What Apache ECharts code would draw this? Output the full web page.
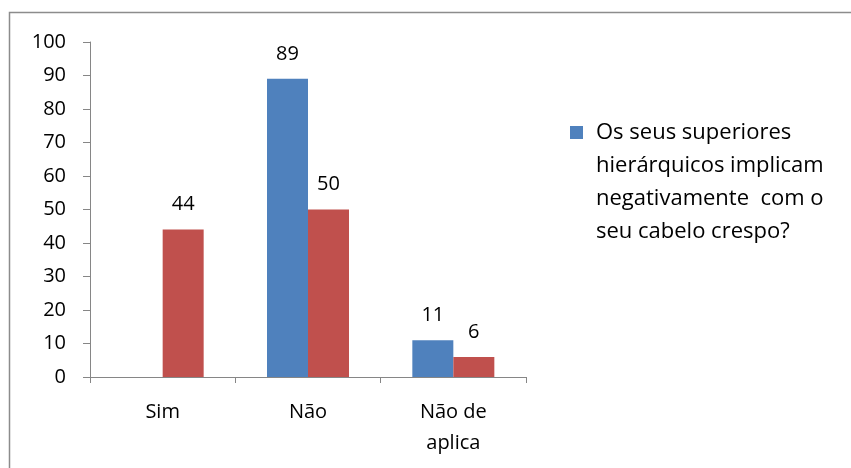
<!DOCTYPE html>
<html>
<head>
<meta charset="utf-8">
<script src="https://cdn.jsdelivr.net/npm/echarts@6/dist/echarts.min.js"></script>
<style>
  html, body { margin: 0; padding: 0; background: #fff; }
  #chart { width: 851px; height: 468px; }
</style>
</head>
<body>
<div id="chart"></div>
<script>
// data
var categories = ['Sim', 'Não', 'Não de\naplica']
var seriesName = 'Os seus superiores\nhierárquicos implicam\nnegativamente  com o\nseu cabelo crespo?'
var blueValues = [null, 89, 11]
var redValues = [44, 50, 6]
var yTicks = { min: 0, max: 100, interval: 10 }

var font = '"Open Sans", Lato, sans-serif'
var axisGray = '#868686'

// legend marker: square at the first text line, invisible dots stretch the box
var legendIcon = 'path://M0,0h0.01v0.01h-0.01z M0,10h13v13h-13z M20.99,131.99h0.01v0.01h-0.01z'

var chart = echarts.init(document.getElementById('chart'), null, { renderer: 'canvas' })

chart.setOption({
  animation: false,
  backgroundColor: '#fff',
  textStyle: { fontFamily: font },
  graphic: [
    {
      type: 'rect',
      shape: { x: 9.5, y: 12.5, width: 900, height: 500 },
      style: { fill: 'none', stroke: '#8c8c8c', lineWidth: 1.5 },
      silent: true
    }
  ],
  grid: {
    left: 90,
    top: 42,
    width: 436,
    bottom: 91
  },
  legend: {
    data: [seriesName],
    left: 565,
    top: 111,
    itemWidth: 21,
    itemHeight: 132,
    icon: legendIcon,
    textStyle: {
      fontFamily: font,
      fontSize: 22,
      color: '#000',
      lineHeight: 33
    }
  },
  xAxis: {
    type: 'category',
    data: categories,
    axisLine: { lineStyle: { color: axisGray, width: 1 } },
    axisTick: { show: true, length: 6, lineStyle: { color: axisGray } },
    axisLabel: {
      color: '#000',
      fontSize: 20,
      fontFamily: font,
      margin: 20,
      lineHeight: 31
    }
  },
  yAxis: {
    type: 'value',
    min: yTicks.min,
    max: yTicks.max,
    interval: yTicks.interval,
    splitLine: { show: false },
    axisLine: { show: true, lineStyle: { color: axisGray, width: 1 } },
    axisTick: { show: true, length: 7, lineStyle: { color: axisGray } },
    axisLabel: {
      color: '#000',
      fontSize: 20,
      fontFamily: font,
      margin: 24
    }
  },
  series: [
    {
      name: seriesName,
      type: 'bar',
      data: blueValues,
      barWidth: 41,
      barGap: '0%',
      itemStyle: { color: '#4F81BD' },
      label: {
        show: true,
        position: 'top',
        distance: 15,
        color: '#000',
        fontSize: 20,
        fontFamily: font
      }
    },
    {
      name: 'red',
      type: 'bar',
      data: redValues,
      barWidth: 41,
      barGap: '0%',
      itemStyle: { color: '#C0504D' },
      label: {
        show: true,
        position: 'top',
        distance: 15,
        color: '#000',
        fontSize: 20,
        fontFamily: font
      }
    }
  ]
})
</script>
</body>
</html>
